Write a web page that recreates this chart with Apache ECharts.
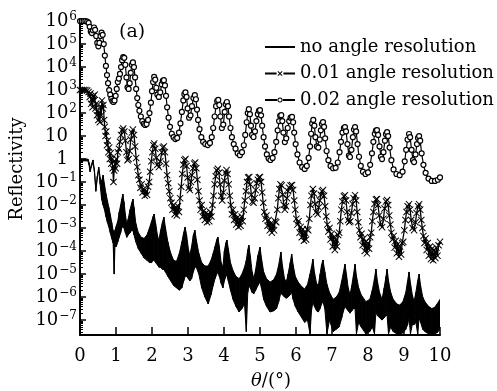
<!DOCTYPE html>
<html><head><meta charset="utf-8">
<script src="https://cdn.jsdelivr.net/npm/echarts@6/dist/echarts.min.js"></script>
<style>html,body{margin:0;padding:0;background:#fff}#c{width:497px;height:391px}</style>
</head><body><div id="c"></div>
<script>
// ---- data (all reflectivity values stored as log10(R)) ----
const xTicks = [0,1,2,3,4,5,6,7,8,9,10];
const yTickExponents = [-7,-6,-5,-4,-3,-2,-1,0,1,2,3,4,5,6];
const seriesNames = ['no angle resolution','0.01 angle resolution','0.02 angle resolution'];

// no angle resolution: [theta, upper edge, lower edge] of the dense fringe band
const noRes = [
[0.00,0.00,-0.08],[0.22,0.00,-0.08],[0.25,-0.15,-0.25],[0.28,-0.45,-0.55],[0.32,-0.22,-0.32],
[0.36,-0.04,-0.14],[0.40,-0.45,-0.55],[0.44,-1.30,-1.40],[0.48,-0.75,-0.85],[0.52,-0.35,-0.45],
[0.56,-0.80,-1.10],[0.60,-1.00,-1.75],[0.64,-0.70,-2.00],[0.68,-1.10,-2.20],[0.72,-1.50,-2.50],
[0.76,-1.80,-2.75],[0.80,-2.10,-2.95],[0.84,-2.40,-3.20],[0.88,-2.75,-3.45],[0.92,-3.10,-3.65],
[0.95,-3.30,-5.00],[0.97,-3.10,-3.80],[1.01,-2.90,-3.80],[1.05,-2.70,-3.60],[1.09,-2.30,-3.40],
[1.13,-2.00,-3.20],[1.16,-1.75,-3.00],[1.19,-1.52,-2.90],[1.22,-1.85,-3.00],[1.26,-2.40,-3.20],
[1.30,-2.85,-3.40],[1.34,-2.60,-3.30],[1.39,-2.20,-3.20],[1.44,-1.90,-3.10],[1.47,-1.74,-3.10],
[1.50,-2.10,-3.30],[1.55,-2.80,-3.60],[1.62,-3.20,-3.90],[1.70,-3.40,-4.10],[1.78,-3.45,-4.30],
[1.86,-3.30,-4.40],[1.93,-3.00,-4.50],[1.99,-2.70,-4.50],[2.03,-2.50,-4.40],[2.06,-2.39,-4.40],
[2.10,-2.80,-4.50],[2.15,-3.30,-4.60],[2.19,-3.55,-4.70],[2.24,-3.10,-4.70],[2.29,-2.75,-4.80],
[2.33,-2.52,-4.80],[2.37,-2.95,-4.90],[2.44,-3.60,-5.10],[2.52,-4.10,-5.30],[2.60,-4.40,-5.50],
[2.68,-4.45,-5.60],[2.76,-4.10,-5.70],[2.83,-3.60,-5.60],[2.88,-3.20,-5.30],[2.92,-2.96,-5.10],
[2.96,-3.30,-5.10],[3.01,-3.90,-5.20],[3.05,-4.20,-5.30],[3.10,-3.80,-5.20],[3.15,-3.30,-4.90],
[3.19,-3.09,-4.70],[3.23,-3.50,-4.70],[3.30,-4.10,-5.00],[3.38,-4.50,-5.60],[3.47,-4.65,-6.00],
[3.56,-4.65,-6.30],[3.64,-4.40,-5.90],[3.70,-4.10,-5.50],[3.75,-3.80,-5.20],[3.80,-3.50,-5.00],
[3.83,-3.39,-4.90],[3.87,-3.80,-5.10],[3.92,-4.50,-5.40],[3.97,-4.70,-5.60],[4.01,-4.00,-5.30],
[4.05,-3.65,-5.10],[4.08,-3.52,-5.05],[4.12,-3.90,-5.30],[4.18,-4.50,-5.70],[4.25,-4.85,-6.10],
[4.33,-5.10,-6.40],[4.42,-5.20,-6.65],[4.50,-5.00,-6.50],[4.57,-4.70,-6.30],[4.62,-4.40,-7.50],
[4.66,-3.95,-5.80],[4.69,-3.74,-5.50],[4.73,-4.20,-5.60],[4.78,-4.90,-5.80],[4.83,-5.20,-5.85],
[4.88,-4.80,-5.70],[4.94,-4.20,-5.50],[5.00,-3.83,-5.35],[5.04,-4.30,-5.60],[5.10,-4.90,-6.10],
[5.18,-5.20,-6.40],[5.28,-5.35,-6.65],[5.38,-5.25,-6.60],[5.46,-5.00,-6.50],[5.52,-4.60,-6.20],
[5.58,-4.04,-5.80],[5.62,-4.60,-5.90],[5.68,-5.20,-6.00],[5.73,-5.35,-6.05],[5.78,-5.00,-6.00],
[5.84,-4.50,-5.90],[5.88,-4.13,-5.80],[5.92,-4.60,-6.10],[5.98,-5.10,-6.40],[6.06,-5.35,-6.65],
[6.16,-5.55,-6.90],[6.24,-5.65,-7.10],[6.32,-5.45,-7.00],[6.39,-5.00,-7.60],[6.43,-4.70,-6.60],
[6.47,-4.35,-6.20],[6.51,-4.90,-6.40],[6.57,-5.40,-6.60],[6.62,-5.50,-6.65],[6.67,-5.00,-6.50],
[6.71,-4.60,-6.30],[6.75,-4.39,-6.20],[6.80,-4.90,-6.50],[6.86,-5.45,-7.60],[6.93,-5.80,-7.00],
[7.03,-6.10,-7.50],[7.12,-6.00,-7.40],[7.20,-5.80,-7.30],[7.27,-5.30,-6.90],[7.32,-4.90,-6.60],
[7.36,-4.57,-6.40],[7.40,-5.00,-6.50],[7.45,-5.60,-6.60],[7.50,-5.90,-6.70],[7.55,-5.50,-6.60],
[7.60,-5.00,-6.50],[7.64,-4.57,-6.50],[7.68,-5.10,-7.60],[7.74,-5.60,-7.10],[7.81,-5.90,-7.30],
[7.94,-6.20,-7.60],[8.05,-6.10,-7.50],[8.12,-5.70,-7.30],[8.18,-5.20,-7.60],[8.22,-4.78,-6.65],
[8.26,-5.30,-6.80],[8.32,-5.80,-6.90],[8.39,-6.10,-7.00],[8.45,-5.60,-6.90],[8.50,-5.10,-6.80],
[8.53,-4.78,-6.80],[8.57,-5.30,-7.60],[8.63,-5.80,-7.30],[8.70,-6.10,-7.50],[8.80,-6.30,-7.60],
[8.88,-6.35,-7.65],[8.97,-6.20,-7.55],[9.05,-5.80,-7.40],[9.10,-5.30,-7.20],[9.14,-4.91,-6.90],
[9.18,-5.40,-7.60],[9.23,-5.90,-7.20],[9.28,-6.20,-7.20],[9.33,-5.80,-7.10],[9.38,-5.30,-7.60],
[9.42,-5.00,-6.90],[9.46,-5.50,-7.10],[9.52,-6.00,-7.40],[9.58,-6.20,-7.50],[9.68,-6.40,-7.60],
[9.77,-6.50,-7.65],[9.85,-6.45,-7.60],[9.92,-6.30,-7.55],[10.0,-6.10,-7.40]
];

// 0.01 angle resolution (shifted by 10^3): [theta, log10 R]
const res001 = [
[0.00,3.00],[0.05,3.00],[0.10,3.00],[0.15,3.00],[0.20,2.98],[0.24,2.92],[0.27,2.70],[0.29,2.85],[0.31,2.40],[0.33,2.60],
[0.35,2.25],[0.37,2.75],[0.39,2.55],[0.41,2.80],[0.43,2.20],[0.45,2.40],[0.47,1.90],[0.49,2.10],[0.51,1.70],[0.53,2.00],
[0.55,1.60],[0.57,2.30],[0.59,1.90],[0.61,2.55],[0.63,2.20],[0.65,2.35],[0.67,1.70],[0.69,1.40],[0.71,1.00],[0.73,1.20],
[0.75,0.60],[0.77,0.80],[0.79,0.30],[0.81,0.50],[0.83,0.00],[0.85,0.25],[0.87,-0.20],[0.89,0.00],[0.91,-0.40],[0.93,-1.00],
[0.95,-0.50],[0.97,-0.10],[0.99,-0.40],[1.01,0.00],[1.03,-0.20],[1.05,0.30],[1.08,0.45],[1.11,0.75],[1.14,1.05],[1.17,1.25],
[1.20,1.33],[1.23,1.20],[1.26,0.80],[1.29,0.30],[1.32,-0.05],[1.35,0.00],[1.38,0.35],[1.41,0.85],[1.44,1.15],[1.47,1.28],
[1.50,1.05],[1.53,0.55],[1.56,0.05],[1.59,-0.35],[1.62,-0.70],[1.65,-0.90],[1.68,-1.25],[1.71,-1.10],[1.74,-1.45],[1.77,-1.30],
[1.80,-1.60],[1.83,-1.40],[1.86,-1.55],[1.89,-1.20],[1.92,-1.00],[1.95,-0.55],[1.98,-0.10],[2.01,0.30],[2.04,0.60],[2.06,0.68],
[2.09,0.45],[2.12,0.05],[2.15,-0.25],[2.19,-0.35],[2.23,-0.10],[2.27,0.30],[2.30,0.50],[2.33,0.55],[2.36,0.30],[2.39,-0.20],
[2.42,-0.70],[2.45,-1.05],[2.48,-1.40],[2.51,-1.70],[2.54,-1.90],[2.57,-2.20],[2.60,-2.00],[2.63,-2.40],[2.66,-2.10],[2.69,-2.45],
[2.72,-2.05],[2.75,-2.30],[2.78,-1.70],[2.81,-1.20],[2.84,-0.65],[2.87,-0.25],[2.90,-0.05],[2.93,0.00],[2.96,-0.30],[2.99,-0.80],
[3.02,-1.25],[3.05,-1.35],[3.08,-1.00],[3.11,-0.70],[3.14,-0.40],[3.17,-0.20],[3.20,-0.15],[3.23,-0.40],[3.26,-0.90],[3.29,-1.40],
[3.32,-1.80],[3.35,-2.20],[3.38,-2.00],[3.41,-2.50],[3.44,-2.25],[3.47,-2.65],[3.50,-2.35],[3.53,-2.75],[3.56,-2.40],[3.59,-2.70],
[3.62,-2.30],[3.65,-2.50],[3.68,-2.00],[3.71,-1.60],[3.74,-1.10],[3.77,-0.75],[3.80,-0.50],[3.83,-0.42],[3.86,-0.60],[3.89,-1.10],
[3.92,-1.60],[3.95,-1.80],[3.98,-1.45],[4.01,-0.95],[4.04,-0.60],[4.07,-0.48],[4.10,-0.65],[4.13,-1.10],[4.16,-1.60],[4.19,-2.00],
[4.22,-2.40],[4.25,-2.20],[4.28,-2.65],[4.31,-2.40],[4.34,-2.85],[4.37,-2.55],[4.40,-2.95],[4.43,-2.60],[4.46,-2.90],[4.49,-2.50],
[4.52,-2.70],[4.55,-2.20],[4.58,-1.80],[4.61,-1.40],[4.64,-1.00],[4.67,-0.80],[4.70,-0.78],[4.73,-1.10],[4.76,-1.55],[4.79,-1.85],
[4.82,-1.90],[4.85,-1.70],[4.88,-1.35],[4.91,-1.05],[4.94,-0.90],[4.97,-0.80],[5.00,-0.78],[5.03,-1.00],[5.06,-1.45],[5.09,-1.90],
[5.12,-2.30],[5.15,-2.60],[5.18,-2.45],[5.21,-2.90],[5.24,-2.65],[5.27,-3.10],[5.30,-2.80],[5.33,-3.20],[5.36,-2.85],[5.39,-3.10],
[5.42,-2.70],[5.45,-2.75],[5.48,-2.20],[5.51,-1.70],[5.54,-1.30],[5.57,-1.10],[5.60,-1.15],[5.63,-1.55],[5.66,-2.00],[5.69,-2.20],
[5.72,-2.05],[5.75,-1.70],[5.78,-1.40],[5.81,-1.25],[5.85,-1.15],[5.89,-1.13],[5.92,-1.35],[5.95,-1.80],[5.98,-2.20],[6.01,-2.60],
[6.04,-2.85],[6.07,-2.70],[6.10,-3.20],[6.13,-2.95],[6.16,-3.40],[6.19,-3.05],[6.22,-3.55],[6.25,-3.20],[6.28,-3.50],[6.31,-3.05],
[6.34,-3.10],[6.37,-2.60],[6.40,-2.00],[6.43,-1.60],[6.47,-1.30],[6.50,-1.50],[6.53,-1.95],[6.56,-2.30],[6.60,-2.40],[6.63,-2.10],
[6.66,-1.80],[6.69,-1.55],[6.72,-1.40],[6.75,-1.35],[6.78,-1.60],[6.81,-2.05],[6.84,-2.50],[6.87,-2.85],[6.90,-3.15],[6.93,-3.00],
[6.96,-3.50],[6.99,-3.25],[7.02,-3.80],[7.05,-3.40],[7.08,-3.95],[7.11,-3.50],[7.14,-3.80],[7.17,-3.30],[7.20,-3.20],[7.23,-2.70],
[7.26,-2.20],[7.29,-1.85],[7.33,-1.62],[7.36,-1.57],[7.39,-1.80],[7.42,-2.30],[7.45,-2.65],[7.48,-2.75],[7.51,-2.70],[7.54,-2.35],
[7.57,-1.95],[7.60,-1.70],[7.64,-1.57],[7.67,-1.80],[7.70,-2.30],[7.73,-2.75],[7.76,-3.10],[7.79,-3.40],[7.82,-3.25],[7.85,-3.75],
[7.88,-3.45],[7.91,-4.00],[7.94,-3.60],[7.97,-4.10],[8.00,-3.65],[8.03,-3.90],[8.06,-3.40],[8.09,-3.20],[8.12,-2.70],[8.15,-2.30],
[8.18,-1.95],[8.22,-1.76],[8.25,-1.74],[8.28,-2.00],[8.31,-2.45],[8.35,-2.85],[8.39,-2.96],[8.43,-2.60],[8.46,-2.15],[8.50,-1.85],
[8.53,-1.78],[8.56,-2.00],[8.59,-2.45],[8.62,-2.85],[8.65,-3.20],[8.68,-3.50],[8.71,-3.35],[8.74,-3.85],[8.77,-3.55],[8.80,-4.10],
[8.83,-3.70],[8.86,-4.25],[8.89,-3.80],[8.92,-4.15],[8.95,-3.65],[8.98,-3.60],[9.01,-3.10],[9.04,-2.65],[9.07,-2.30],[9.10,-2.05],
[9.14,-1.96],[9.17,-2.20],[9.20,-2.65],[9.24,-3.00],[9.28,-3.09],[9.32,-2.75],[9.35,-2.35],[9.39,-2.05],[9.42,-1.96],[9.45,-2.20],
[9.48,-2.65],[9.51,-3.00],[9.54,-3.35],[9.57,-3.65],[9.60,-3.45],[9.63,-3.95],[9.66,-3.65],[9.69,-4.20],[9.72,-3.80],[9.75,-4.35],
[9.78,-3.90],[9.81,-4.40],[9.84,-3.95],[9.87,-4.30],[9.90,-3.85],[9.93,-4.20],[9.96,-3.75],[10.0,-3.60]
];

// 0.02 angle resolution (shifted by 10^6): [theta, log10 R]
const res002 = [
[0.00,6.00],[0.05,6.00],[0.10,6.00],[0.15,6.00],[0.20,5.98],[0.24,5.92],[0.27,5.75],[0.30,5.55],[0.33,5.48],[0.36,5.60],
[0.39,5.72],[0.42,5.62],[0.45,5.35],[0.48,5.05],[0.51,4.90],[0.54,5.05],[0.57,5.35],[0.60,5.50],[0.63,5.40],[0.66,5.00],
[0.69,4.50],[0.72,4.05],[0.75,3.65],[0.78,3.30],[0.81,3.00],[0.84,2.80],[0.87,2.62],[0.90,2.52],[0.93,2.48],[0.96,2.55],
[0.99,2.75],[1.02,3.05],[1.05,3.35],[1.08,3.50],[1.11,3.70],[1.14,4.00],[1.17,4.30],[1.20,4.43],[1.23,4.40],[1.26,4.10],
[1.29,3.55],[1.32,3.12],[1.35,3.05],[1.38,3.30],[1.41,3.75],[1.44,4.10],[1.47,4.20],[1.50,4.00],[1.53,3.55],[1.56,3.05],
[1.59,2.65],[1.62,2.35],[1.65,2.10],[1.69,1.85],[1.73,1.65],[1.77,1.53],[1.81,1.48],[1.85,1.52],[1.89,1.70],[1.93,2.00],
[1.97,2.45],[2.00,2.95],[2.03,3.35],[2.06,3.57],[2.09,3.45],[2.12,3.10],[2.15,2.80],[2.19,2.70],[2.23,2.90],[2.27,3.25],
[2.30,3.40],[2.33,3.43],[2.36,3.20],[2.39,2.75],[2.42,2.25],[2.46,1.80],[2.50,1.40],[2.55,1.10],[2.60,0.95],[2.65,0.87],
[2.70,0.92],[2.75,1.15],[2.79,1.55],[2.83,2.05],[2.87,2.55],[2.90,2.82],[2.93,2.90],[2.96,2.70],[2.99,2.20],[3.03,1.80],
[3.07,1.90],[3.11,2.30],[3.15,2.65],[3.19,2.78],[3.22,2.60],[3.25,2.15],[3.28,1.70],[3.32,1.30],[3.37,0.95],[3.42,0.75],
[3.48,0.65],[3.55,0.61],[3.61,0.70],[3.66,0.95],[3.70,1.35],[3.74,1.85],[3.78,2.30],[3.81,2.52],[3.84,2.57],[3.87,2.35],
[3.90,1.85],[3.94,1.35],[3.98,1.50],[4.02,2.05],[4.05,2.38],[4.08,2.48],[4.11,2.30],[4.14,1.85],[4.18,1.35],[4.22,0.95],
[4.27,0.65],[4.32,0.45],[4.38,0.25],[4.44,0.17],[4.50,0.30],[4.55,0.60],[4.59,1.05],[4.63,1.60],[4.66,2.00],[4.69,2.17],
[4.72,1.95],[4.75,1.45],[4.78,1.05],[4.82,0.96],[4.86,1.20],[4.90,1.65],[4.94,1.95],[4.97,2.10],[5.00,2.13],[5.03,1.90],
[5.06,1.45],[5.10,0.95],[5.14,0.55],[5.19,0.20],[5.24,0.02],[5.29,-0.04],[5.35,0.05],[5.40,0.30],[5.45,0.75],[5.49,1.25],
[5.53,1.65],[5.56,1.88],[5.59,1.91],[5.62,1.65],[5.65,1.15],[5.69,0.74],[5.73,0.90],[5.77,1.35],[5.81,1.65],[5.85,1.80],
[5.89,1.83],[5.92,1.60],[5.95,1.15],[5.99,0.65],[6.04,0.20],[6.10,-0.15],[6.17,-0.35],[6.24,-0.43],[6.30,-0.30],[6.35,0.05],
[6.39,0.55],[6.42,1.10],[6.45,1.55],[6.48,1.70],[6.51,1.45],[6.54,0.95],[6.58,0.55],[6.62,0.50],[6.66,0.85],[6.69,1.25],
[6.72,1.52],[6.75,1.61],[6.78,1.40],[6.81,0.90],[6.85,0.35],[6.90,-0.05],[6.96,-0.30],[7.03,-0.40],[7.10,-0.38],[7.16,-0.15],
[7.21,0.30],[7.25,0.75],[7.29,1.15],[7.33,1.35],[7.36,1.39],[7.39,1.20],[7.43,0.65],[7.47,0.15],[7.50,0.09],[7.54,0.40],
[7.58,0.95],[7.61,1.28],[7.64,1.39],[7.67,1.20],[7.71,0.65],[7.75,0.10],[7.80,-0.30],[7.86,-0.55],[7.93,-0.65],[8.00,-0.58],
[8.06,-0.25],[8.11,0.25],[8.15,0.75],[8.19,1.10],[8.22,1.24],[8.25,1.26],[8.28,1.05],[8.32,0.55],[8.36,0.10],[8.39,0.00],
[8.43,0.30],[8.47,0.80],[8.50,1.08],[8.53,1.17],[8.56,1.00],[8.60,0.50],[8.65,-0.05],[8.71,-0.45],[8.79,-0.65],[8.88,-0.70],
[8.96,-0.55],[9.02,-0.10],[9.06,0.40],[9.10,0.85],[9.14,1.09],[9.17,0.95],[9.21,0.40],[9.25,-0.05],[9.28,-0.13],[9.32,0.20],
[9.36,0.65],[9.39,0.92],[9.42,1.00],[9.45,0.80],[9.49,0.25],[9.54,-0.25],[9.60,-0.60],[9.68,-0.85],[9.77,-0.95],[9.86,-0.95],
[9.94,-0.90],[10.0,-0.80]
];

// ---- chart ----
const FONT = '"DejaVu Serif", serif';
const toR = e => Math.pow(10, e);
const yMin = toR(-7.65), yMax = toR(6.09);
const yMajor = yTickExponents.map(toR);
const yMinor = [];
for (let n = -8; n <= 6; n++) for (let k = 2; k <= 9; k++) { const v = k * Math.pow(10, n); if (v > yMin && v < yMax) yMinor.push(v); }

const bandData = noRes.map(r => [r[0], toR(r[1]), toR(r[2])]);

const chart = echarts.init(document.getElementById('c'), null, {renderer: 'canvas'});
chart.setOption({
  animation: false,
  backgroundColor: '#fff',
  grid: {left: 80, right: 57, top: 19, bottom: 56, containLabel: false},
  xAxis: {
    type: 'value', min: xTicks[0], max: xTicks[xTicks.length - 1], interval: 1,
    axisLine: {show: true, lineStyle: {color: '#000', width: 2}},
    axisTick: {show: true, inside: true, length: 8, lineStyle: {color: '#000', width: 1.5}},
    axisLabel: {color: '#000', fontFamily: FONT, fontSize: 18, margin: 12},
    splitLine: {show: false}
  },
  yAxis: [{
    type: 'log', logBase: 10, min: yMin, max: yMax,
    axisLine: {show: true, lineStyle: {color: '#000', width: 2}},
    axisTick: {show: true, inside: true, length: 6, lineStyle: {color: '#000', width: 1.5}, customValues: yMajor},
    axisLabel: {
      customValues: yMajor, margin: 3, color: '#000', fontFamily: FONT, fontSize: 18,
      formatter: function (v) {
        const e = Math.round(Math.log10(v));
        if (e === 0) return '{p|1}';
        if (e === 1) return '{p|10}';
        return '{b|10}{s|' + (e < 0 ? '\u2212' + (-e) : e) + '}';
      },
      rich: {
        b: {fontFamily: FONT, fontSize: 18, color: '#000', lineHeight: 20},
        s: {fontFamily: FONT, fontSize: 12, color: '#000', lineHeight: 20, verticalAlign: 'top', padding: [0, 0, 0, 1]},
        p: {fontFamily: FONT, fontSize: 18, color: '#000', lineHeight: 20, padding: [0, 9, 0, 0]}
      }
    },
    splitLine: {show: false}, minorTick: {show: false}
  }, {
    type: 'log', logBase: 10, min: yMin, max: yMax, position: 'left',
    axisLine: {show: false}, axisLabel: {show: false}, splitLine: {show: false},
    axisTick: {show: true, inside: true, length: 3, lineStyle: {color: '#000', width: 1}, customValues: yMinor}
  }],
  legend: {
    orient: 'vertical', left: 265, top: 37, padding: 0, itemWidth: 30, itemHeight: 10, itemGap: 6.5,
    symbolKeepAspect: true, selectedMode: false,
    textStyle: {fontFamily: FONT, fontSize: 18, color: '#000', lineHeight: 20},
    itemStyle: {color: '#000', borderWidth: 0},
    data: [
      {name: seriesNames[0], icon: 'path://M0,4H30V6H0Z', itemStyle: {color: '#000'}},
      {name: seriesNames[1], icon: 'path://M0,4H11.6V6H0Z M18.4,4H30V6H18.4Z M12.5,3.2L13.2,2.5L15,4.3L16.8,2.5L17.5,3.2L15.7,5L17.5,6.8L16.8,7.5L15,5.7L13.2,7.5L12.5,6.8L14.3,5Z', itemStyle: {color: '#000'}},
      {name: seriesNames[2], icon: 'path://M0,4H12.2V6H0Z M17.8,4H30V6H17.8Z M12.5,5A2.5,2.5,0,1,0,17.5,5A2.5,2.5,0,1,0,12.5,5Z M13.4,5A1.6,1.6,0,1,1,16.6,5A1.6,1.6,0,1,1,13.4,5Z', itemStyle: {color: '#000'}}
    ]
  },
  graphic: [
    {type: 'text', x: 119, y: 32, style: {text: '(a)', font: '19px ' + FONT, fill: '#000', verticalAlign: 'middle'}},
    {type: 'text', x: 17, y: 169, rotation: Math.PI / 2, style: {text: 'Reflectivity', font: '18px ' + FONT, fill: '#000', align: 'center', verticalAlign: 'middle'}},
    {type: 'text', x: 271, y: 381, style: {
      text: '{i|\u03b8}/(\u00b0)', font: '18px ' + FONT, fill: '#000', align: 'center', verticalAlign: 'middle',
      rich: {i: {fontFamily: FONT, fontStyle: 'italic', fontSize: 18, fill: '#000'}}
    }}
  ],
  series: [{
    name: seriesNames[0], type: 'custom', coordinateSystem: 'cartesian2d', clip: true, z: 2,
    encode: {x: 0, y: [1, 2]},
    data: bandData,
    renderItem: function (params, api) {
      const i = params.dataIndex;
      if (i >= bandData.length - 1) return null;
      const a = bandData[i], b = bandData[i + 1];
      const pts = [api.coord([a[0], a[1]]), api.coord([b[0], b[1]]), api.coord([b[0], b[2]]), api.coord([a[0], a[2]])];
      return {type: 'polygon', shape: {points: pts}, style: {fill: '#000', stroke: '#000', lineWidth: 1}};
    }
  }, {
    name: seriesNames[1], type: 'line', z: 3,
    data: res001.map(p => [p[0], toR(p[1])]),
    showSymbol: true, showAllSymbol: true,
    symbol: 'path://M0,1L1,0L5,4L9,0L10,1L6,5L10,9L9,10L5,6L1,10L0,9L4,5Z', symbolSize: 7,
    itemStyle: {color: '#000'}, lineStyle: {color: '#000', width: 1.3}
  }, {
    name: seriesNames[2], type: 'line', z: 4,
    data: res002.map(p => [p[0], toR(p[1])]),
    showSymbol: true, showAllSymbol: true,
    symbol: 'circle', symbolSize: 5,
    itemStyle: {color: '#fff', borderColor: '#000', borderWidth: 1.2}, lineStyle: {color: '#000', width: 1.2}
  }]
});
</script></body></html>
